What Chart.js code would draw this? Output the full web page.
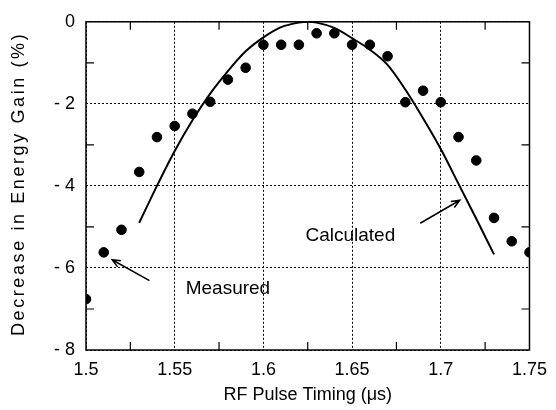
<!DOCTYPE html>
<html>
<head>
<meta charset="utf-8">
<script src="https://cdn.jsdelivr.net/npm/chart.js@4/dist/chart.umd.min.js"></script>
<style>
  html, body { margin: 0; padding: 0; background: #fff; }
  #wrap { width: 556px; height: 410px; }
</style>
</head>
<body>
<div id="wrap"><canvas id="myChart" width="556" height="410"></canvas></div>
<script>
// Measured points (timing in microseconds, decrease in energy gain in %)
var measuredTime = [1.50, 1.51, 1.52, 1.53, 1.54, 1.55, 1.56, 1.57, 1.58, 1.59, 1.60, 1.61, 1.62,
                    1.63, 1.64, 1.65, 1.66, 1.67, 1.68, 1.69, 1.70, 1.71, 1.72, 1.73, 1.74, 1.75];
var measuredGain = [-6.76, -5.62, -5.07, -3.66, -2.81, -2.54, -2.24, -1.95, -1.41, -1.12, -0.56, -0.56, -0.56,
                    -0.28, -0.28, -0.56, -0.56, -0.84, -1.96, -1.68, -1.96, -2.81, -3.38, -4.78, -5.35, -5.62];

// Calculated curve
var calcTime = [1.53, 1.54, 1.55, 1.56, 1.57, 1.58, 1.59, 1.60, 1.61, 1.62, 1.625, 1.63, 1.64,
                1.65, 1.66, 1.67, 1.68, 1.69, 1.70, 1.71, 1.72, 1.73];
var calcGain = [-4.9, -4.0, -3.15, -2.4, -1.75, -1.2, -0.72, -0.38, -0.13, -0.02, 0, -0.02, -0.15,
                -0.4, -0.68, -1.05, -1.65, -2.35, -3.1, -3.95, -4.8, -5.67];

// Labels placed on the plot
var noteText = ["Measured", "Calculated"];
var noteX = [1.580, 1.649];
var noteY = [-6.5, -5.22];
// arrows: tail -> head
var arrowFromX = [1.5358, 1.6884];
var arrowFromY = [-6.31, -4.91];
var arrowToX = [1.5147, 1.7107];
var arrowToY = [-5.80, -4.35];

function toPoints(xs, ys) {
  var pts = [];
  for (var i = 0; i < xs.length; i++) {
    pts.push({ x: xs[i], y: ys[i] });
  }
  return pts;
}

var FONT = "'Liberation Sans', Arial, Helvetica, sans-serif";

// frame, minor ticks, axis titles, notes and arrows
var decorPlugin = {
  id: 'decor',
  afterDatasetsDraw: function (chart) {
    var ctx = chart.ctx;
    var a = chart.chartArea;
    var xs = chart.scales.x, ys = chart.scales.y;
    ctx.save();
    ctx.strokeStyle = '#000';
    ctx.lineWidth = 1.5;
    ctx.strokeRect(a.left, a.top, a.right - a.left, a.bottom - a.top);

    // minor ticks, inward
    ctx.lineWidth = 1.2;
    ctx.beginPath();
    for (var t = 1.525; t < 1.75; t += 0.05) {
      var px = xs.getPixelForValue(t);
      ctx.moveTo(px, a.bottom); ctx.lineTo(px, a.bottom - 8);
      ctx.moveTo(px, a.top); ctx.lineTo(px, a.top + 8);
    }
    for (var v = -1; v > -8; v -= 2) {
      var py = ys.getPixelForValue(v);
      ctx.moveTo(a.left, py); ctx.lineTo(a.left + 8, py);
      ctx.moveTo(a.right, py); ctx.lineTo(a.right - 8, py);
    }
    ctx.stroke();

    // arrows
    ctx.lineWidth = 1.5;
    for (var i = 0; i < arrowFromX.length; i++) {
      var x0 = xs.getPixelForValue(arrowFromX[i]), y0 = ys.getPixelForValue(arrowFromY[i]);
      var x1 = xs.getPixelForValue(arrowToX[i]), y1 = ys.getPixelForValue(arrowToY[i]);
      var ang = Math.atan2(y1 - y0, x1 - x0);
      ctx.beginPath();
      ctx.moveTo(x0, y0); ctx.lineTo(x1, y1);
      ctx.moveTo(x1 - 9 * Math.cos(ang - 0.4), y1 - 9 * Math.sin(ang - 0.4));
      ctx.lineTo(x1, y1);
      ctx.lineTo(x1 - 9 * Math.cos(ang + 0.4), y1 - 9 * Math.sin(ang + 0.4));
      ctx.stroke();
    }

    // notes
    ctx.fillStyle = '#000';
    ctx.font = '19px ' + FONT;
    ctx.textAlign = 'center';
    ctx.textBaseline = 'middle';
    for (var j = 0; j < noteText.length; j++) {
      ctx.fillText(noteText[j], xs.getPixelForValue(noteX[j]), ys.getPixelForValue(noteY[j]));
    }

    // axis titles
    ctx.font = '18px ' + FONT;
    ctx.fillText('RF Pulse Timing (\u03bcs)', (a.left + a.right) / 2, 395);
    ctx.translate(19, (a.top + a.bottom) / 2 - 2);
    ctx.rotate(-Math.PI / 2);
    if ('letterSpacing' in ctx) ctx.letterSpacing = '2.6px';
    ctx.fillText('Decrease in Energy Gain (%)', 0, 0);
    if ('letterSpacing' in ctx) ctx.letterSpacing = '0px';
    ctx.restore();
  }
};

var ctx = document.getElementById("myChart");
var myChart = new Chart(ctx, {
  type: 'scatter',
  data: {
    datasets: [
      {
        label: 'Measured',
        data: toPoints(measuredTime, measuredGain),
        backgroundColor: '#000',
        borderColor: '#000',
        pointRadius: 4.8,
        showLine: false
      },
      {
        label: 'Calculated',
        data: toPoints(calcTime, calcGain),
        borderColor: '#000',
        borderWidth: 2,
        pointRadius: 0,
        showLine: true,
        cubicInterpolationMode: 'monotone',
        fill: false
      }
    ]
  },
  options: {
    responsive: false,
    animation: false,
    layout: { padding: { top: 15, right: 15, left: 0, bottom: 0 } },
    plugins: { legend: { display: false }, tooltip: { enabled: false } },
    scales: {
      x: {
        type: 'linear',
        min: 1.5,
        max: 1.75,
        afterFit: function (s) { s.height = 60; },
        afterBuildTicks: function (s) {
          s.ticks = [1.5, 1.55, 1.6, 1.65, 1.7, 1.75].map(function (v) { return { value: v }; });
        },
        ticks: {
          color: '#000',
          padding: 9,
          maxRotation: 0,
          autoSkip: false,
          font: { size: 18, family: FONT },
          callback: function (v) { return String(Math.round(v * 100) / 100); }
        },
        grid: { color: '#000', lineWidth: 1, drawTicks: false },
        border: { display: false, dash: [2, 2] }
      },
      y: {
        min: -8,
        max: 0,
        afterFit: function (s) { s.width = 86; },
        ticks: {
          stepSize: 2,
          color: '#000',
          padding: 11,
          font: { size: 18, family: FONT },
          callback: function (v) { return v === 0 ? '0' : '- ' + Math.abs(v); }
        },
        grid: { color: '#000', lineWidth: 1, drawTicks: false },
        border: { display: false, dash: [2, 2] }
      }
    }
  },
  plugins: [decorPlugin]
});
</script>
</body>
</html>
